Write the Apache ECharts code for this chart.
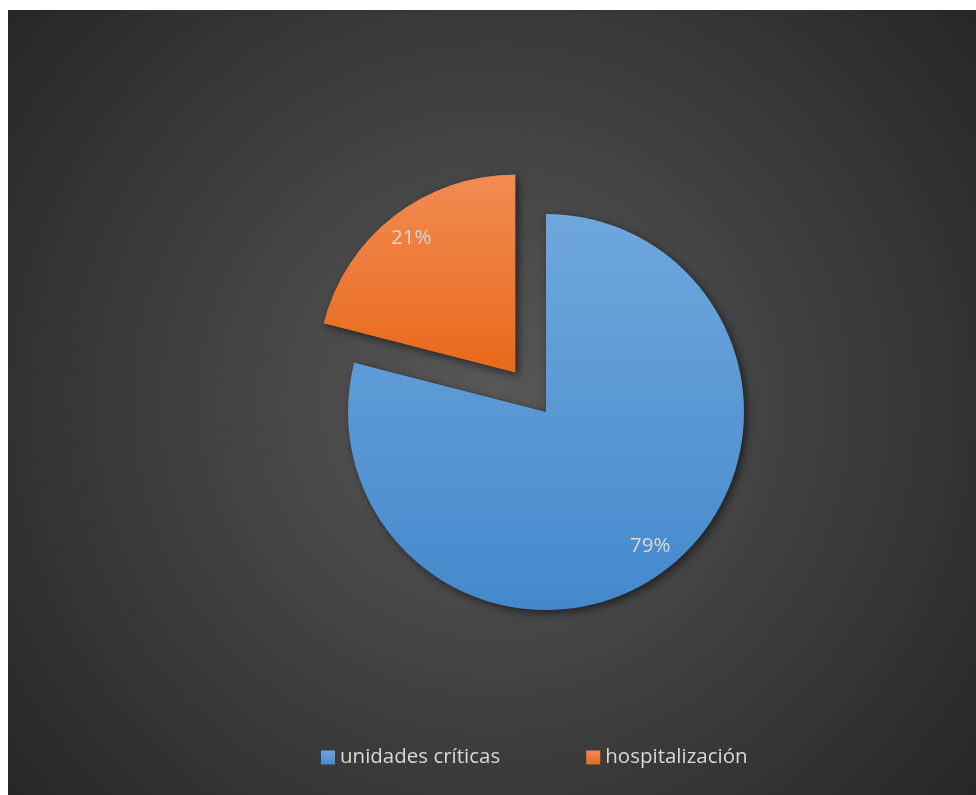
<!DOCTYPE html>
<html>
<head>
<meta charset="utf-8">
<script src="https://cdn.jsdelivr.net/npm/echarts@6/dist/echarts.min.js"></script>
<style>
  html, body { margin: 0; padding: 0; background: #ffffff; }
  #chart { position: absolute; left: 8px; top: 10px; width: 968px; height: 785px; }
</style>
</head>
<body>
<div id="chart"></div>
<script>
// Share of patients by care area
const categories = ['unidades críticas', 'hospitalización'];
const values = [79, 21];
const explodedCategory = 'hospitalización';

const sliceColors = [
  ['#6fa7dd', '#4489cc'],
  ['#f28b53', '#e8691a']
];

function vertical(c) {
  return new echarts.graphic.LinearGradient(0, 0, 0, 1, [
    { offset: 0, color: c[0] },
    { offset: 1, color: c[1] }
  ]);
}

const center = [538, 402];
const radius = 198;
const font = '"Open Sans", "Noto Sans", sans-serif';

const pieData = categories.map((name, i) => ({
  name: name,
  value: values[i],
  selected: name === explodedCategory,
  itemStyle: { color: vertical(sliceColors[i]) }
}));

const labelData = categories.map((name, i) => ({
  name: name,
  value: values[i],
  selected: name === explodedCategory
}));

const chart = echarts.init(document.getElementById('chart'));
chart.setOption({
  backgroundColor: new echarts.graphic.RadialGradient(0.5, 0.5, 0.8, [
    { offset: 0, color: '#585858' },
    { offset: 1, color: '#262626' }
  ]),
  animation: false,
  legend: {
    data: categories,
    left: 308,
    top: 732,
    icon: 'rect',
    itemWidth: 14,
    itemHeight: 14,
    itemGap: 86,
    textStyle: { color: '#d9d9d9', fontSize: 20.5, fontFamily: font },
    selectedMode: false
  },
  series: [
    {
      type: 'pie',
      center: center,
      radius: radius,
      startAngle: 90,
      clockwise: true,
      selectedMode: 'multiple',
      selectedOffset: 50,
      silent: true,
      label: { show: false },
      labelLine: { show: false },
      itemStyle: {
        shadowColor: 'rgba(0,0,0,0.55)',
        shadowBlur: 8,
        shadowOffsetX: 3,
        shadowOffsetY: 3
      },
      emphasis: { disabled: true },
      data: pieData
    },
    {
      // transparent ring that places percentage labels near the rim
      type: 'pie',
      center: center,
      radius: [136, radius],
      startAngle: 90,
      clockwise: true,
      selectedMode: 'multiple',
      selectedOffset: 50,
      silent: true,
      itemStyle: { color: 'rgba(0,0,0,0)' },
      label: {
        show: true,
        position: 'inside',
        formatter: '{d}%',
        color: '#d9d9d9',
        fontSize: 20.5,
        fontFamily: font
      },
      labelLine: { show: false },
      emphasis: { disabled: true },
      data: labelData
    }
  ]
});
</script>
</body>
</html>
